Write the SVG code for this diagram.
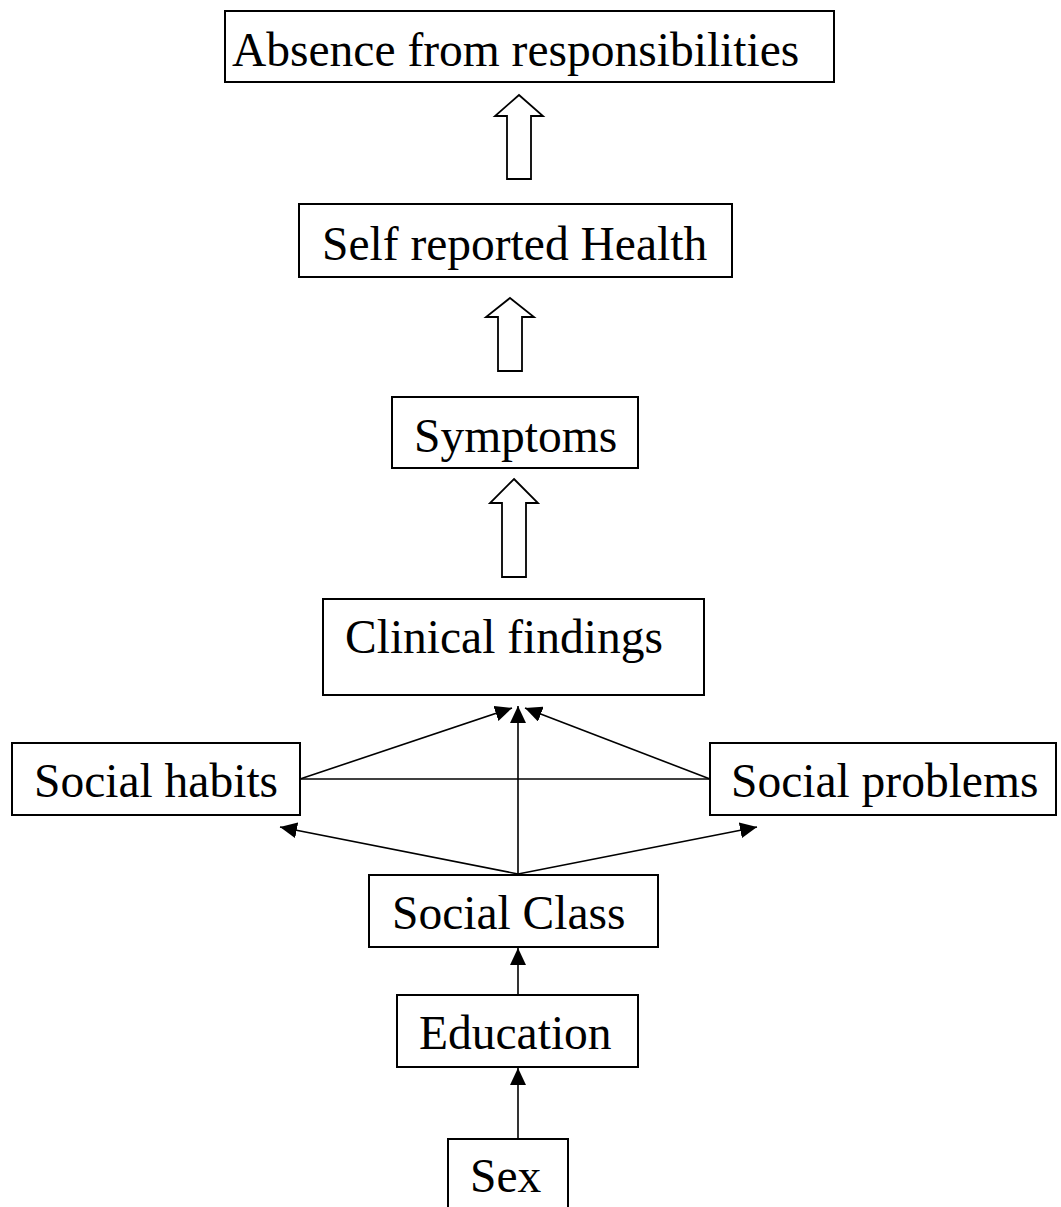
<svg xmlns="http://www.w3.org/2000/svg" width="1061" height="1207" viewBox="0 0 1061 1207">
  <style>
    .box { fill: #ffffff; stroke: #000000; stroke-width: 2; }
    .lbl { font-family: "Liberation Serif", "Times New Roman", serif; font-size: 47.5px; fill: #000000; }
    .link { fill: none; stroke: #000000; stroke-width: 1.6; }
    .big { fill: #ffffff; stroke: #000000; stroke-width: 1.8; stroke-linejoin: miter; }
  </style>
  <defs>
    <marker id="head" viewBox="0 0 17 16" refX="17" refY="8" markerWidth="17" markerHeight="16" markerUnits="userSpaceOnUse" orient="auto">
      <path d="M0,0 L17,8 L0,16 z" fill="#000000"/>
    </marker>
  </defs>

  <rect width="1061" height="1207" fill="#ffffff"/>

  <!-- connectors -->
  <g id="connectors">
    <!-- block arrows between the upper stages -->
    <polygon class="big" points="519,95 543,116 531,116 531,179 507,179 507,116 495,116"/>
    <polygon class="big" points="510,298 534,317 522,317 522,371 498,371 498,317 486,317"/>
    <polygon class="big" points="514,479 538,503 526,503 526,577 502,577 502,503 490,503"/>

    <!-- habits / class / problems into clinical findings -->
    <line class="link" x1="300" y1="779" x2="710" y2="779"/>
    <line class="link" x1="300" y1="779" x2="512" y2="708" marker-end="url(#head)"/>
    <line class="link" x1="710" y1="779" x2="525" y2="708" marker-end="url(#head)"/>
    <line class="link" x1="518" y1="874" x2="518" y2="706" marker-end="url(#head)"/>

    <!-- social class out to habits and problems -->
    <line class="link" x1="518" y1="874" x2="280" y2="827" marker-end="url(#head)"/>
    <line class="link" x1="518" y1="874" x2="757" y2="827" marker-end="url(#head)"/>

    <!-- lower chain -->
    <line class="link" x1="518" y1="995" x2="518" y2="948" marker-end="url(#head)"/>
    <line class="link" x1="518" y1="1139" x2="518" y2="1068" marker-end="url(#head)"/>
  </g>

  <g id="absence">
    <rect class="box" x="225" y="11" width="609" height="71"/>
    <text class="lbl" x="232" y="66">Absence from responsibilities</text>
  </g>

  <g id="self-reported-health">
    <rect class="box" x="299" y="204" width="433" height="73"/>
    <text class="lbl" x="322" y="260">Self reported Health</text>
  </g>

  <g id="symptoms">
    <rect class="box" x="392" y="397" width="246" height="71"/>
    <text class="lbl" x="414" y="452">Symptoms</text>
  </g>

  <g id="clinical-findings">
    <rect class="box" x="323" y="599" width="381" height="96"/>
    <text class="lbl" x="345" y="653">Clinical findings</text>
  </g>

  <g id="social-habits">
    <rect class="box" x="12" y="743" width="288" height="72"/>
    <text class="lbl" x="34" y="797">Social habits</text>
  </g>

  <g id="social-problems">
    <rect class="box" x="710" y="743" width="346" height="72"/>
    <text class="lbl" x="731" y="797">Social problems</text>
  </g>

  <g id="social-class">
    <rect class="box" x="369" y="875" width="289" height="72"/>
    <text class="lbl" x="392" y="929">Social Class</text>
  </g>

  <g id="education">
    <rect class="box" x="397" y="995" width="241" height="72"/>
    <text class="lbl" x="419" y="1049">Education</text>
  </g>

  <g id="sex">
    <rect class="box" x="448" y="1139" width="120" height="90"/>
    <text class="lbl" x="470" y="1192">Sex</text>
  </g>
</svg>
